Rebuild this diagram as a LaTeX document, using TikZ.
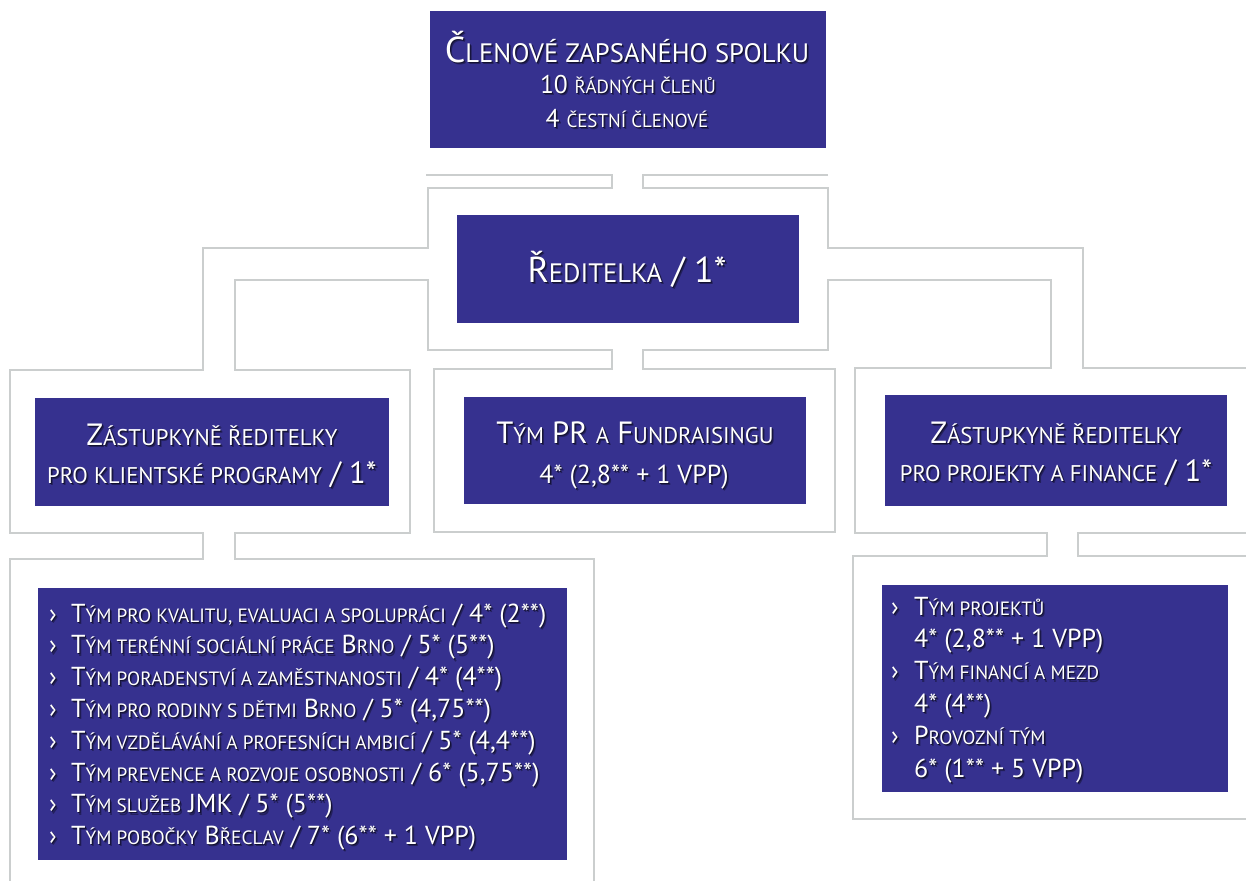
\documentclass[tikz,border=0pt]{standalone}
\usepackage{fontspec}
\setmainfont{PT Sans}
\usepackage{tikz}
\usetikzlibrary{fit}

\definecolor{boxblue}{RGB}{54,49,143}
\definecolor{pipegray}{RGB}{203,206,206}
\colorlet{shadowfar}{boxblue!65!black}
\colorlet{shadownear}{boxblue!35!black}

\makeatletter
\newcommand\smc[1]{{\fontsize{\fpeval{0.74*\f@size}}{0}\selectfont\MakeUppercase{#1}}}
\makeatother
\newcommand\shadowed[1]{%
  \rlap{\hspace{2pt}\raisebox{-2.2pt}{\color{shadowfar}#1}}%
  \rlap{\hspace{1pt}\raisebox{-1pt}{\color{shadownear}#1}}#1}

\begin{document}
\begin{tikzpicture}[x=1pt,y=-1pt,
  box/.style={fill=boxblue, inner sep=0pt},
  pipe/.style={draw=pipegray, line width=2.8pt},
  caption/.style={text=white, inner sep=0pt, anchor=base},
  huge/.style={font=\fontsize{36}{36}\selectfont},
  large/.style={font=\fontsize{30.7}{30.7}\selectfont},
  mid/.style={font=\fontsize{26}{26}\selectfont},
  small/.style={font=\fontsize{25.6}{25.6}\selectfont}]
\useasboundingbox (0,0) rectangle (1246,881);

% pipes
\draw[pipe] (426,175) -- (612,175) -- (612,188) -- (428,188) -- (428,248)
  -- (203,248) -- (203,370) -- (10,370) -- (10,533) -- (203,533)
  -- (203,559) -- (10,559) -- (10,881);
\draw[pipe] (594,881) -- (594,559) -- (235,559) -- (235,533) -- (410,533)
  -- (410,370) -- (235,370) -- (235,280) -- (428,280) -- (428,350)
  -- (612,350) -- (612,369) -- (434,369) -- (434,532) -- (835,532)
  -- (835,369) -- (643,369) -- (643,350) -- (828,350) -- (828,280)
  -- (1051,280) -- (1051,368) -- (855,368) -- (855,533) -- (1047,533)
  -- (1047,556) -- (853,556) -- (853,819) -- (1246,819);
\draw[pipe] (828,175) -- (643,175) -- (643,188) -- (828,188) -- (828,248)
  -- (1083,248) -- (1083,368) -- (1246,368);
\draw[pipe] (1246,533) -- (1078,533) -- (1078,556) -- (1246,556);

% boxes
\node[box, fit={(430,11) (826,148)}] (clenove) {};
\node[box, fit={(457,215) (799,323)}] (reditelka) {};
\node[box, fit={(35,398) (389,506)}] (zastklient) {};
\node[box, fit={(464,397) (806,504)}] (prteam) {};
\node[box, fit={(885,395) (1227,506)}] (zastfin) {};
\node[box, fit={(38,588) (567,860)}] (klientteams) {};
\node[box, fit={(882,585) (1228,792)}] (finteams) {};

% texts
\node[caption, huge] (clenove1) at (627,62) {\shadowed{Č\smc{lenové zapsaného spolku}}};
\node[caption, small] (clenove2) at (628,93) {\shadowed{10 \smc{řádných členů}}};
\node[caption, small] (clenove3) at (627,127) {\shadowed{4 \smc{čestní členové}}};

\node[caption, huge] (reditelka1) at (627,282) {\shadowed{Ř\smc{editelka} / 1*}};

\node[caption, large] (zastklient1) at (212,445) {\shadowed{Z\smc{ástupkyně ředitelky}}};
\node[caption, large] (zastklient2) at (212,483) {\shadowed{\smc{pro klientské programy} / 1*}};

\node[caption, large] (prteam1) at (635,443) {\shadowed{T\smc{ým} PR \smc{a} F\smc{undraisingu}}};
\node[caption, mid] (prteam2) at (634,483) {\shadowed{4* (2,8** + 1 VPP)}};

\node[caption, large] (zastfin1) at (1056,443) {\shadowed{Z\smc{ástupkyně ředitelky}}};
\node[caption, large] (zastfin2) at (1056,481) {\shadowed{\smc{pro projekty a finance} / 1*}};

\foreach \t [count=\i from 0] in {
  {T\smc{ým pro kvalitu, evaluaci a spolupráci} / 4* (2**)},
  {T\smc{ým terénní sociální práce} B\smc{rno} / 5* (5**)},
  {T\smc{ým poradenství a zaměstnanosti} / 4* (4**)},
  {T\smc{ým pro rodiny s dětmi} B\smc{rno} / 5* (4,75**)},
  {T\smc{ým vzdělávání a profesních ambicí} / 5* (4,4**)},
  {T\smc{ým prevence a rozvoje osobnosti} / 6* (5,75**)},
  {T\smc{ým služeb} JMK / 5* (5**)},
  {T\smc{ým pobočky} B\smc{řeclav} / 7* (6** + 1 VPP)}}
{
  \node[caption, mid, anchor=base west] (klientbullet\i) at (49,622+31.8*\i) {\shadowed{›}};
  \node[caption, mid, anchor=base west] (klientteam\i) at (71,622+31.8*\i) {\shadowed{\t}};
}

\foreach \b/\t [count=\i from 0] in {
  ›/{T\smc{ým projektů}},
  /{4* (2,8** + 1 VPP)},
  ›/{T\smc{ým financí a mezd}},
  /{4* (4**)},
  ›/{P\smc{rovozní tým}},
  /{6* (1** + 5 VPP)}}
{
  \node[caption, mid, anchor=base west] (finbullet\i) at (891,615+32.4*\i) {\shadowed{\b}};
  \node[caption, mid, anchor=base west] (finteam\i) at (914,615+32.4*\i) {\shadowed{\t}};
}
\end{tikzpicture}
\end{document}
